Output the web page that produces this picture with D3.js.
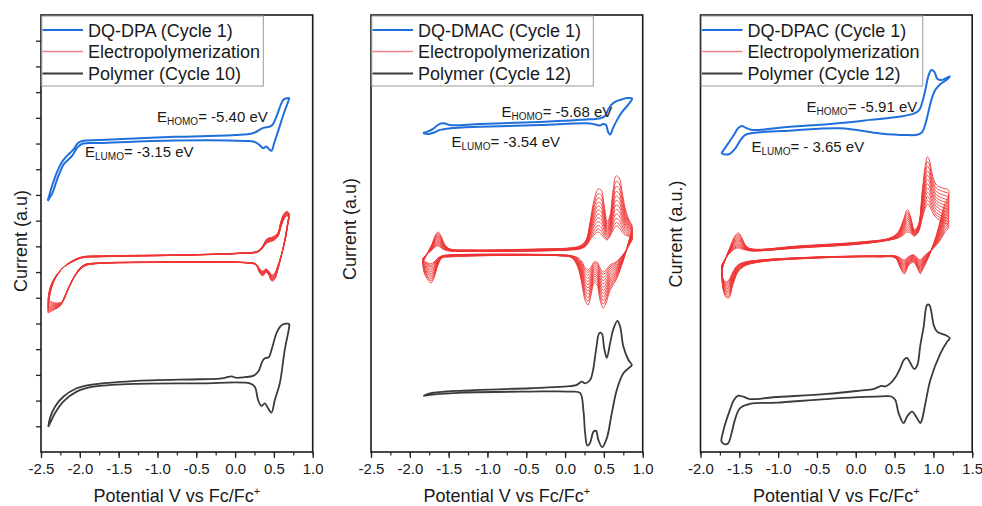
<!DOCTYPE html>
<html><head><meta charset="utf-8">
<script src="https://cdn.jsdelivr.net/npm/d3@7"></script>
<style>
body{margin:0;background:#fff}
svg{display:block}
text{font-family:"Liberation Sans",Arial,Helvetica,sans-serif;fill:#1a1a1a}
</style>
</head><body>
<svg id="chart" width="982" height="506"></svg>
<script>
// ---------------- DATA ----------------
const monomerNames = ["DQ-DPA (Cycle 1)", "DQ-DMAC (Cycle 1)", "DQ-DPAC (Cycle 1)"];
const elecName = "Electropolymerization";
const polymerNames = ["Polymer (Cycle 10)", "Polymer (Cycle 12)", "Polymer (Cycle 12)"];
const homoValues = ["= -5.40 eV", "= -5.68 eV", "= -5.91 eV"];
const lumoValues = ["= -3.15 eV", "= -3.54 eV", "= - 3.65 eV"];
const yTitles = ["Current (a.u)", "Current (a.u)", "Current (a.u.)"];
const xTitle = "Potential V vs Fc/Fc";
const xDomains = [[-2.5, 1.0], [-2.5, 1.0], [-2.0, 1.5]];
const xTickLabels12 = ["-2.5","-2.0","-1.5","-1.0","-0.5","0.0","0.5","1.0"];
const xTickLabels3 = ["-2.0","-1.5","-1.0","-0.5","0.0","0.5","1.0","1.5"];
const yDomain = [0, 17];

// Panel 1: DQ-DPA  [potential V, current a.u.]
const dpaMonomer = [[-2.414,9.77],[-2.358,10.35],[-2.294,10.89],[-2.23,11.28],[-2.178,11.48],[-2.127,11.63],[-2.075,11.79],[-2.024,12.02],[-1.972,12.10],[-1.741,12.14],[-0.775,12.26],[-0.003,12.33],[0.228,12.40],[0.357,12.60],[0.447,12.66],[0.486,12.74],[0.533,13.05],[0.598,13.57],[0.627,13.72],[0.696,13.76],
 [0.692,13.70],[0.621,13.11],[0.560,12.53],[0.504,12.02],[0.469,11.72],[0.434,11.79],[0.405,11.88],[0.361,11.82],[0.319,11.93],[0.254,12.06],[0.125,12.10],[-0.775,12.12],[-1.741,12.02],[-1.959,12.0],[-2.024,11.87],[-2.101,11.52],[-2.153,11.36],[-2.204,11.21],[-2.281,10.70],[-2.358,10.04],[-2.414,9.77]];
const dpaElecFirst = [[-2.41,5.91],[-2.397,6.23],[-2.371,6.5],[-2.333,6.73],[-2.281,6.96],[-2.204,7.20],[-2.101,7.39],[-1.972,7.55],[-1.741,7.59],[-0.711,7.65],[0.061,7.72],[0.293,7.78],[0.357,7.94],[0.409,8.13],[0.486,8.21],[0.55,8.37],[0.589,8.72],[0.627,9.03],[0.666,9.18],[0.692,9.14],
 [0.679,8.83],[0.64,8.17],[0.589,7.59],[0.55,7.24],[0.512,6.96],[0.473,6.89],[0.434,7.04],[0.396,7.12],[0.357,7.04],[0.319,7.12],[0.267,7.32],[0.164,7.37],[-1.097,7.39],[-1.805,7.35],[-1.934,7.30],[-1.998,7.16],[-2.075,6.81],[-2.153,6.30],[-2.23,5.84],[-2.32,5.80],[-2.41,5.91]];
const dpaElecLast = [[-2.41,5.41],[-2.397,5.91],[-2.371,6.30],[-2.333,6.65],[-2.281,6.93],[-2.204,7.20],[-2.101,7.43],[-1.972,7.59],[-1.741,7.63],[-0.711,7.67],[0.061,7.74],[0.293,7.82],[0.357,8.02],[0.409,8.29],[0.486,8.37],[0.55,8.52],[0.589,8.95],[0.627,9.26],[0.666,9.36],[0.692,9.30],
 [0.679,8.95],[0.64,8.25],[0.589,7.55],[0.55,7.08],[0.512,6.73],[0.473,6.65],[0.434,6.89],[0.396,7.0],[0.357,6.85],[0.319,6.96],[0.267,7.28],[0.164,7.35],[-1.097,7.37],[-1.805,7.32],[-1.934,7.24],[-2.024,7.0],[-2.127,6.5],[-2.204,5.99],[-2.255,5.68],[-2.333,5.53],[-2.41,5.41]];
const dpaElecCycleScale = [0, 0.13, 0.25, 0.37, 0.48, 0.59, 0.7, 0.8, 0.9, 1];
const dpaPolymer = [[-2.406,0.98],[-2.384,1.32],[-2.32,1.76],[-2.213,2.15],[-2.041,2.48],[-1.827,2.63],[-1.312,2.76],[-0.454,2.83],[-0.171,2.86],[-0.093,2.92],[-0.042,2.94],[0.01,2.89],[0.125,2.91],[0.232,2.96],[0.297,3.12],[0.361,3.58],[0.396,3.66],[0.434,3.68],[0.473,4.01],[0.533,4.62],[0.576,4.86],[0.615,4.96],[0.696,4.98],
 [0.696,4.86],[0.64,3.97],[0.576,2.67],[0.512,2.02],[0.469,1.53],[0.425,1.70],[0.383,1.89],[0.34,1.79],[0.297,2.02],[0.254,2.54],[0.19,2.67],[-0.454,2.67],[-1.312,2.65],[-1.827,2.54],[-2.041,2.35],[-2.213,1.96],[-2.32,1.51],[-2.384,1.12],[-2.406,0.98]];

// Panel 2: DQ-DMAC
const dmacMonomer = [[-1.83,12.41],[-1.765,12.47],[-1.701,12.57],[-1.649,12.70],[-1.598,12.78],[-1.546,12.78],[-1.482,12.72],[-1.095,12.76],[-0.322,12.84],[0.322,12.94],[0.451,12.98],[0.515,13.07],[0.554,13.31],[0.606,13.54],[0.67,13.66],[0.735,13.72],[0.799,13.77],[0.863,13.75],
 [0.851,13.66],[0.799,13.46],[0.735,13.23],[0.67,12.92],[0.619,12.61],[0.58,12.35],[0.554,12.45],[0.528,12.72],[0.49,12.76],[0.451,12.70],[0.412,12.72],[0.322,12.78],[-0.322,12.72],[-1.095,12.65],[-1.482,12.59],[-1.611,12.53],[-1.688,12.43],[-1.765,12.37],[-1.83,12.41]];
const dmacElecFirst = [[-1.83,7.55],[-1.765,7.74],[-1.714,7.86],[-1.675,7.98],[-1.637,8.02],[-1.598,7.94],[-1.546,7.86],[-1.482,7.82],[-1.224,7.80],[-0.322,7.82],[0.064,7.86],[0.193,7.90],[0.271,8.02],[0.322,8.25],[0.374,8.44],[0.425,8.56],[0.464,8.48],[0.503,8.33],[0.541,8.25],[0.58,8.40],[0.619,8.64],[0.657,8.79],[0.696,8.72],[0.735,8.56],[0.773,8.44],[0.812,8.40],[0.863,8.33],
 [0.863,8.25],[0.825,8.05],[0.773,7.78],[0.709,7.55],[0.657,7.39],[0.58,7.28],[0.528,7.08],[0.49,7.0],[0.451,7.16],[0.412,7.39],[0.374,7.39],[0.335,7.20],[0.296,7.08],[0.258,7.16],[0.219,7.39],[0.168,7.55],[0.09,7.63],[-0.064,7.67],[-1.482,7.67],[-1.585,7.63],[-1.637,7.55],[-1.688,7.39],[-1.727,7.32],[-1.765,7.35],[-1.817,7.43],[-1.83,7.55]];
const dmacElecLast = [[-1.83,7.39],[-1.765,7.78],[-1.714,8.09],[-1.675,8.40],[-1.637,8.56],[-1.598,8.40],[-1.546,8.05],[-1.482,7.90],[-1.224,7.86],[-0.322,7.90],[0.064,7.94],[0.193,8.02],[0.271,8.25],[0.322,8.95],[0.374,9.81],[0.425,10.23],[0.464,10.19],[0.503,9.61],[0.541,8.95],[0.58,9.22],[0.619,10.19],[0.657,10.74],[0.696,10.66],[0.735,10.12],[0.773,9.49],[0.812,9.11],[0.863,8.79],
 [0.863,8.68],[0.825,8.25],[0.773,7.67],[0.709,7.08],[0.657,6.69],[0.58,6.30],[0.528,5.80],[0.49,5.60],[0.451,5.91],[0.412,6.50],[0.374,6.58],[0.335,6.11],[0.296,5.72],[0.258,5.91],[0.219,6.50],[0.168,7.16],[0.09,7.55],[-0.064,7.63],[-1.482,7.59],[-1.585,7.55],[-1.637,7.28],[-1.688,6.77],[-1.727,6.58],[-1.765,6.69],[-1.817,7.0],[-1.83,7.39]];
const dmacElecCycleScale = [0, 0.07, 0.15, 0.24, 0.33, 0.42, 0.51, 0.6, 0.69, 0.79, 0.89, 1];
const dmacPolymer = [[-1.826,2.18],[-1.74,2.28],[-1.311,2.39],[-0.451,2.48],[-0.022,2.54],[0.151,2.61],[0.215,2.74],[0.258,2.67],[0.322,2.80],[0.361,3.19],[0.399,3.97],[0.442,4.63],[0.473,4.61],[0.503,4.05],[0.537,3.66],[0.58,4.23],[0.619,4.75],[0.674,5.10],[0.709,4.88],[0.751,4.10],[0.816,3.58],[0.86,3.39],
 [0.838,3.31],[0.751,3.06],[0.666,2.41],[0.602,1.51],[0.537,0.53],[0.477,0.19],[0.429,0.47],[0.399,0.82],[0.365,0.78],[0.322,0.35],[0.287,0.25],[0.258,0.74],[0.236,1.63],[0.193,2.30],[0.064,2.35],[-0.451,2.35],[-1.311,2.31],[-1.74,2.22],[-1.826,2.18]];

// Panel 3: DQ-DPAC
const dpacMonomer = [[-1.731,11.63],[-1.673,11.87],[-1.622,12.10],[-1.57,12.33],[-1.518,12.59],[-1.467,12.68],[-1.415,12.61],[-1.337,12.53],[-0.847,12.65],[-0.266,12.78],[0.186,12.92],[0.574,13.05],[0.755,13.17],[0.819,13.31],[0.858,13.62],[0.897,14.09],[0.936,14.63],[0.974,14.86],[1.013,14.79],[1.052,14.51],[1.103,14.47],[1.155,14.53],[1.213,14.61],
 [1.168,14.47],[1.091,14.32],[1.026,14.09],[0.974,13.70],[0.936,13.23],[0.897,12.76],[0.858,12.45],[0.806,12.35],[0.638,12.33],[0.316,12.39],[-0.201,12.59],[-0.808,12.51],[-1.325,12.41],[-1.428,12.33],[-1.492,12.10],[-1.557,11.79],[-1.622,11.60],[-1.699,11.58],[-1.731,11.63]];
const dpacElecFirst = [[-1.725,7.28],[-1.673,7.55],[-1.609,7.78],[-1.557,7.90],[-1.512,7.94],[-1.467,7.90],[-1.415,7.86],[-1.337,7.82],[-0.718,7.94],[0.057,8.09],[0.445,8.25],[0.548,8.33],[0.613,8.44],[0.664,8.56],[0.703,8.52],[0.755,8.40],[0.806,8.56],[0.858,9.11],[0.897,9.49],[0.923,9.65],[0.948,9.57],[0.987,9.34],[1.039,9.11],[1.116,8.95],[1.194,8.83],
 [1.194,8.72],[1.142,8.52],[1.091,8.25],[1.039,8.05],[0.974,7.86],[0.91,7.70],[0.858,7.55],[0.832,7.47],[0.794,7.55],[0.742,7.67],[0.677,7.59],[0.626,7.47],[0.574,7.55],[0.509,7.63],[0.316,7.63],[-0.459,7.59],[-1.234,7.47],[-1.428,7.39],[-1.518,7.28],[-1.583,7.00],[-1.635,6.69],[-1.673,6.61],[-1.712,6.77],[-1.725,7.28]];
const dpacElecLast = [[-1.725,7.08],[-1.673,7.55],[-1.609,8.05],[-1.557,8.40],[-1.512,8.52],[-1.467,8.33],[-1.415,8.02],[-1.337,7.90],[-0.718,8.02],[0.057,8.17],[0.445,8.33],[0.548,8.56],[0.613,9.03],[0.664,9.42],[0.703,9.18],[0.755,8.64],[0.806,8.83],[0.858,10.19],[0.897,11.17],[0.923,11.48],[0.948,11.36],[0.987,10.78],[1.039,10.39],[1.116,10.27],[1.194,10.19],
 [1.194,9.96],[1.142,9.61],[1.091,9.03],[1.039,8.44],[0.974,7.86],[0.91,7.39],[0.858,7.08],[0.832,6.93],[0.794,7.16],[0.742,7.39],[0.677,7.24],[0.626,6.93],[0.574,7.16],[0.509,7.55],[0.316,7.59],[-0.459,7.55],[-1.234,7.39],[-1.428,7.24],[-1.518,7.00],[-1.583,6.50],[-1.635,5.99],[-1.673,6.03],[-1.712,6.38],[-1.725,7.08]];
const dpacElecCycleScale = [0, 0.08, 0.16, 0.25, 0.34, 0.43, 0.52, 0.61, 0.7, 0.8, 0.9, 1];
const dpacPolymer = [[-1.729,0.53],[-1.686,1.05],[-1.622,1.63],[-1.57,2.02],[-1.514,2.19],[-1.45,2.15],[-1.363,2.06],[-1.062,2.13],[-0.373,2.26],[0.057,2.39],[0.229,2.45],[0.329,2.57],[0.38,2.55],[0.445,2.67],[0.522,2.96],[0.574,3.27],[0.619,3.58],[0.66,3.66],[0.703,3.46],[0.755,3.23],[0.794,3.39],[0.832,4.16],[0.875,4.88],[0.919,5.72],[0.948,5.72],[0.974,5.45],[1.004,4.94],[1.048,4.68],[1.155,4.55],[1.211,4.42],
 [1.177,4.29],[1.091,3.84],[0.961,2.80],[0.897,1.89],[0.852,1.25],[0.832,1.12],[0.79,1.31],[0.725,1.57],[0.66,1.37],[0.617,1.12],[0.552,1.51],[0.509,2.02],[0.458,2.16],[0.316,2.16],[-0.373,2.06],[-1.018,1.92],[-1.363,1.87],[-1.492,1.70],[-1.557,1.25],[-1.6,0.73],[-1.644,0.34],[-1.686,0.30],[-1.729,0.40],[-1.729,0.53]];

// ---------------- LAYOUT ----------------
const plotTop = 15, plotBottom = 452, plotWidth = 271.7;
const colors = {monomer: "#1f6fdc", elec: "#ef3535", elecLegend: "#f3828c", polymer: "#3b3b3b"};
const panels = [
  {left: 41, monomer: dpaMonomer, first: dpaElecFirst, last: dpaElecLast, scale: dpaElecCycleScale, polymer: dpaPolymer,
   ticks: xTickLabels12, homo: [116, 121.5], lumo: [44, 156.5], yTitle: [27, 241], yTicks: true},
  {left: 371, monomer: dmacMonomer, first: dmacElecFirst, last: dmacElecLast, scale: dmacElecCycleScale, polymer: dmacPolymer,
   ticks: xTickLabels12, homo: [130.5, 116.5], lumo: [80.5, 146.5], yTitle: [356, 229], yTicks: false},
  {left: 700.5, monomer: dpacMonomer, first: dpacElecFirst, last: dpacElecLast, scale: dpacElecCycleScale, polymer: dpacPolymer,
   ticks: xTickLabels3, homo: [106, 111.5], lumo: [51, 151.5], yTitle: [682, 234], yTicks: false}
];

const svg = d3.select("#chart");
const defs = svg.append("defs");

panels.forEach((p, i) => {
  const x = d3.scaleLinear().domain(xDomains[i]).range([p.left, p.left + plotWidth]);
  const y = d3.scaleLinear().domain(yDomain).range([plotBottom, plotTop]);
  const g = svg.append("g");

  defs.append("clipPath").attr("id", "clip" + i).append("rect")
    .attr("x", p.left).attr("y", plotTop).attr("width", plotWidth).attr("height", plotBottom - plotTop);

  const line = d3.line().x(d => x(d[0])).y(d => y(d[1])).curve(d3.curveCatmullRom.alpha(0.5));
  const curves = g.append("g").attr("clip-path", `url(#clip${i})`);

  // electropolymerization cycles (first cycle -> last cycle, scaled per cycle)
  p.scale.forEach(s => {
    const pts = p.first.map((d, j) => [d[0] + (p.last[j][0] - d[0]) * s, d[1] + (p.last[j][1] - d[1]) * s]);
    curves.append("path").attr("d", line(pts)).attr("fill", "none")
      .attr("stroke", colors.elec).attr("stroke-width", 0.9).attr("stroke-linejoin", "round");
  });
  curves.append("path").attr("d", line(p.polymer)).attr("fill", "none")
    .attr("stroke", colors.polymer).attr("stroke-width", 1.8).attr("stroke-linejoin", "round");
  curves.append("path").attr("d", line(p.monomer)).attr("fill", "none")
    .attr("stroke", colors.monomer).attr("stroke-width", 2).attr("stroke-linejoin", "round");

  // x axis
  const tickVals = p.ticks.map(Number);
  const minorVals = d3.range(xDomains[i][0], xDomains[i][1] + 0.001, 0.25);
  g.append("g").attr("transform", `translate(0,${plotBottom})`)
    .call(d3.axisBottom(x).tickValues(minorVals).tickSize(3.5).tickFormat(""))
    .call(a => a.select(".domain").remove())
    .call(a => a.selectAll("line").attr("stroke", "#222").attr("stroke-width", 1.2));
  const xa = g.append("g").attr("transform", `translate(0,${plotBottom})`)
    .call(d3.axisBottom(x).tickValues(tickVals).tickSize(6).tickPadding(5)
      .tickFormat((d, k) => p.ticks[k]));
  xa.select(".domain").remove();
  xa.selectAll("line").attr("stroke", "#222").attr("stroke-width", 1.3);
  xa.selectAll("text").attr("font-size", 15).attr("fill", "#1a1a1a")
    .style("font-family", '"Liberation Sans",Arial,sans-serif');

  // y ticks (only first panel)
  if (p.yTicks) {
    const ya = g.append("g").attr("transform", `translate(${p.left},0)`)
      .call(d3.axisLeft(y).tickValues(d3.range(1, 17)).tickSize(5).tickFormat(""));
    ya.select(".domain").remove();
    ya.selectAll("line").attr("stroke", "#222").attr("stroke-width", 1.3);
  }

  // frame
  g.append("rect").attr("x", p.left).attr("y", plotTop).attr("width", plotWidth).attr("height", plotBottom - plotTop)
    .attr("fill", "none").attr("stroke", "#1a1a1a").attr("stroke-width", 1.6);

  // legend
  const lg = g.append("g");
  lg.append("rect").attr("x", p.left + 0.8).attr("y", plotTop + 1).attr("width", 221.5).attr("height", 70)
    .attr("fill", "#fff").attr("stroke", "#999").attr("stroke-width", 1);
  const rows = [[monomerNames[i], colors.monomer, 2], [elecName, colors.elecLegend, 1.3], [polymerNames[i], colors.polymer, 1.8]];
  const rowY = [30, 51.5, 73.5];
  rows.forEach((r, k) => {
    lg.append("line").attr("x1", p.left + 1.5).attr("x2", p.left + 42).attr("y1", rowY[k]).attr("y2", rowY[k])
      .attr("stroke", r[1]).attr("stroke-width", r[2]);
    lg.append("text").attr("x", p.left + 47).attr("y", rowY[k] + 6.5).attr("font-size", 18).text(r[0]);
  });

  // annotations
  const addE = (pos, sub, val) => {
    const t = g.append("text").attr("x", p.left + pos[0]).attr("y", pos[1]).attr("font-size", 15);
    t.append("tspan").text("E");
    t.append("tspan").attr("font-size", 10).attr("dy", 3.5).text(sub);
    t.append("tspan").attr("dy", -3.5).text(val);
  };
  addE(p.homo, "HOMO", homoValues[i]);
  addE(p.lumo, "LUMO", lumoValues[i]);

  // axis titles
  const xt = g.append("text").attr("x", p.left + plotWidth / 2).attr("y", 502)
    .attr("text-anchor", "middle").attr("font-size", 18);
  xt.append("tspan").text(xTitle);
  xt.append("tspan").attr("font-size", 11).attr("dy", -7).text("+");

  g.append("text").attr("transform", `translate(${p.yTitle[0]},${p.yTitle[1]}) rotate(-90)`)
    .attr("text-anchor", "middle").attr("font-size", 18).text(yTitles[i]);
});
</script>
</body></html>
